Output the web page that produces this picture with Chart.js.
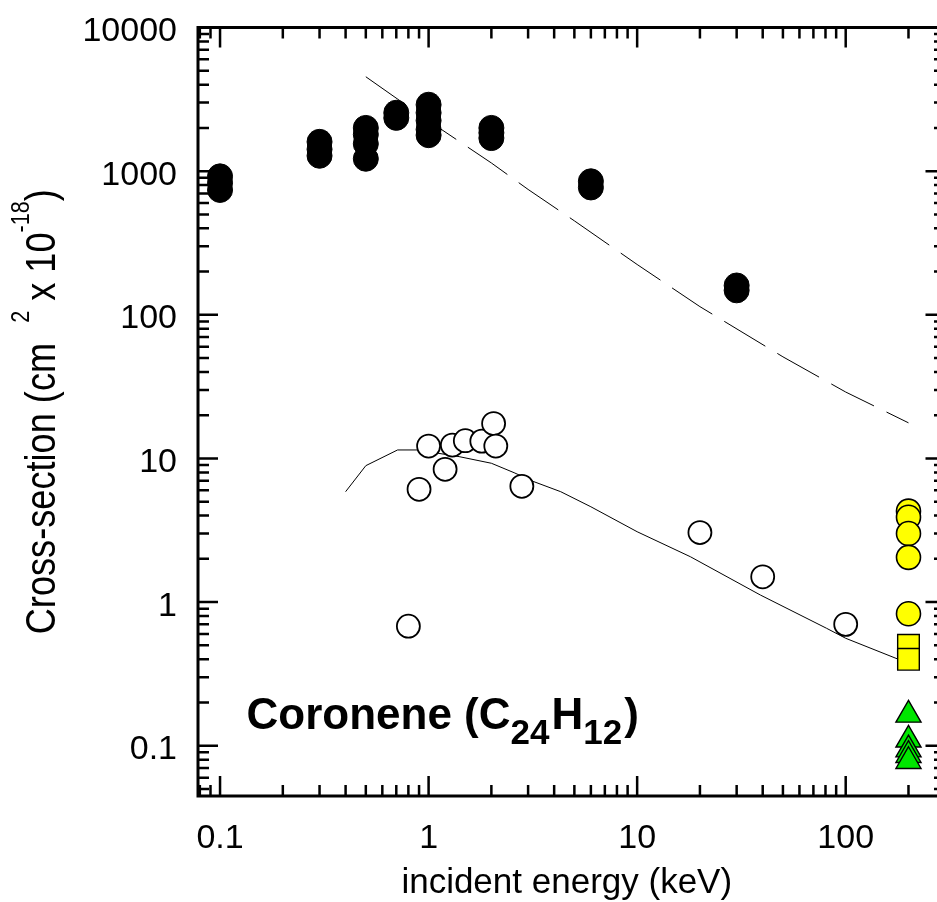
<!DOCTYPE html>
<html>
<head>
<meta charset="utf-8">
<script src="https://cdn.jsdelivr.net/npm/chart.js@4.4.1/dist/chart.umd.min.js"></script>
<style>
    html, body { margin: 0; padding: 0; background: #fff; }
    #chart { display: block; }
</style>
</head>
<body>
<canvas id="chart" width="937" height="902"></canvas>
<script>
// incident energy (keV) / cross-section (x 1e-18 cm^2)
var blackX = [0.1, 0.1, 0.1, 0.3, 0.3, 0.3, 0.5, 0.5, 0.5, 0.5, 0.7, 0.7, 1, 1, 1, 1, 1, 2, 2, 2, 6, 6, 30, 30];
var blackY = [920, 830, 740, 1600, 1420, 1280, 2000, 1800, 1550, 1220, 2550, 2350, 2900, 2550, 2250, 1950, 1780, 2000, 1850, 1700, 850, 770, 160, 148];

var openX = [0.8, 0.9, 1.0, 1.2, 1.3, 1.5, 1.8, 2.05, 2.1, 2.8, 20, 40, 100];
var openY = [0.68, 6.1, 12.2, 8.4, 12.4, 13.3, 13.2, 17.5, 12.2, 6.4, 3.05, 1.5, 0.70];

var yellowCircleX = [200, 200, 200, 200, 200];
var yellowCircleY = [4.3, 3.9, 3.0, 2.05, 0.83];
var yellowSquareX = [200, 200];
var yellowSquareY = [0.50, 0.40];
var greenX = [200, 200, 200, 200, 200];
var greenY = [0.164, 0.110, 0.094, 0.086, 0.078];

// theory curves
var dashX = [0.5, 1, 2, 3, 5, 10, 20, 50, 100, 200];
var dashY = [4540, 2240, 1140, 746, 451, 224, 114, 51, 29, 17.7];
var solidX = [0.4, 0.5, 0.71, 0.886, 1.4, 2, 2.57, 3.2, 4.3, 6, 10, 18, 39, 81, 100, 200];
var solidY = [5.87, 8.91, 11.46, 11.46, 10.3, 9.26, 7.96, 6.89, 5.87, 4.61, 3.09, 2.07, 1.12, 0.657, 0.56, 0.375];

var xTickValues = [0.1, 1, 10, 100];
var xTickLabels = ["0.1", "1", "10", "100"];
var yTickValues = [0.1, 1, 10, 100, 1000, 10000];
var yTickLabels = ["0.1", "1", "10", "100", "1000", "10000"];

function pts(xs, ys) {
    return xs.map(function (x, i) { return { x: x, y: ys[i] }; });
}

function minorTicks(min, max) {
    var out = [];
    for (var e = -3; e <= 5; e++) {
        for (var m = 2; m <= 9; m++) {
            var v = m * Math.pow(10, e);
            if (v > min && v < max) out.push(v);
        }
    }
    return out;
}

var frame = {
    id: "frame",
    afterDatasetsDraw: function (chart) {
        var ctx = chart.ctx;
        var a = chart.chartArea;
        var sx = chart.scales.x, sy = chart.scales.y;
        ctx.save();
        ctx.strokeStyle = "#000";
        ctx.lineCap = "butt";

        // inward ticks
        ctx.lineWidth = 2.5;
        ctx.beginPath();
        xTickValues.forEach(function (v) {
            var px = sx.getPixelForValue(v);
            ctx.moveTo(px, a.bottom); ctx.lineTo(px, a.bottom - 20);
            ctx.moveTo(px, a.top); ctx.lineTo(px, a.top + 20);
        });
        minorTicks(sx.min, sx.max).forEach(function (v) {
            var px = sx.getPixelForValue(v);
            ctx.moveTo(px, a.bottom); ctx.lineTo(px, a.bottom - 11);
            ctx.moveTo(px, a.top); ctx.lineTo(px, a.top + 11);
        });
        yTickValues.forEach(function (v) {
            var py = sy.getPixelForValue(v);
            ctx.moveTo(a.left, py); ctx.lineTo(a.left + 20, py);
            ctx.moveTo(a.right - 10, py); ctx.lineTo(a.right + 2, py);
        });
        minorTicks(sy.min, sy.max).forEach(function (v) {
            var py = sy.getPixelForValue(v);
            ctx.moveTo(a.left, py); ctx.lineTo(a.left + 11, py);
            ctx.moveTo(a.right - 1.5, py); ctx.lineTo(a.right + 2, py);
        });
        ctx.stroke();

        // frame
        ctx.lineWidth = 3;
        ctx.beginPath();
        ctx.moveTo(a.left, a.top); ctx.lineTo(chart.width, a.top);
        ctx.moveTo(a.left, a.top - 1.5); ctx.lineTo(a.left, a.bottom + 1.5);
        ctx.moveTo(a.left, a.bottom); ctx.lineTo(chart.width, a.bottom);
        ctx.stroke();

        // tick labels
        ctx.fillStyle = "#000";
        ctx.font = '34px "Liberation Sans", Arial, sans-serif';
        ctx.textAlign = "right";
        ctx.textBaseline = "alphabetic";
        yTickValues.forEach(function (v, i) {
            ctx.fillText(yTickLabels[i], 177, sy.getPixelForValue(v) + 13.5);
        });
        ctx.textAlign = "center";
        xTickValues.forEach(function (v, i) {
            ctx.fillText(xTickLabels[i], sx.getPixelForValue(v), 848);
        });

        // x title
        ctx.font = '35px "Liberation Sans", Arial, sans-serif';
        ctx.fillText("incident energy (keV)", (a.left + a.right) / 2, 893);

        // y title, condensed, with superscripts
        var big = '42px "Liberation Sans", Arial, sans-serif';
        var sup = '25px "Liberation Sans", Arial, sans-serif';
        var parts = [
            { t: "Cross-section (cm  ", f: big, r: 0 },
            { t: "2", f: sup, r: 26 },
            { t: " x 10", f: big, r: 0 },
            { t: "-18", f: sup, r: 26 },
            { t: ")", f: big, r: 0 }
        ];
        var total = 0;
        parts.forEach(function (p) { ctx.font = p.f; p.w = ctx.measureText(p.t).width; total += p.w; });
        var k = 445 / total;
        ctx.save();
        ctx.translate(55, (a.top + a.bottom) / 2);
        ctx.rotate(-Math.PI / 2);
        ctx.scale(k, 1);
        ctx.textAlign = "left";
        var cx = -total / 2;
        parts.forEach(function (p) {
            ctx.font = p.f;
            ctx.fillText(p.t, cx, -p.r);
            cx += p.w;
        });
        ctx.restore();

        // annotation
        var mainF = 'bold 44px "Liberation Sans", Arial, sans-serif';
        var subF = 'bold 35px "Liberation Sans", Arial, sans-serif';
        var segs = [
            { t: "Coronene (C", f: mainF, dy: 0 },
            { t: "24", f: subF, dy: 15 },
            { t: "H", f: mainF, dy: 0 },
            { t: "12", f: subF, dy: 15 },
            { t: ")", f: mainF, dy: 0 }
        ];
        ctx.textAlign = "left";
        var tx = 246.5;
        segs.forEach(function (s) {
            ctx.font = s.f;
            ctx.fillText(s.t, tx, 728.5 + s.dy);
            tx += ctx.measureText(s.t).width + (s.dy ? 2 : 0);
        });
        ctx.restore();
    }
};

var ctx = document.getElementById("chart");
var chart = new Chart(ctx, {
    type: "scatter",
    data: {
        datasets: [
            {
                label: "theory (dashed)",
                data: pts(dashX, dashY),
                showLine: true,
                borderColor: "#000",
                borderWidth: 1,
                borderDash: [48, 14],
                pointRadius: 0,
                order: 10
            },
            {
                label: "theory (solid)",
                data: pts(solidX, solidY),
                showLine: true,
                borderColor: "#000",
                borderWidth: 1,
                pointRadius: 0,
                order: 9
            },
            {
                label: "total",
                data: pts(blackX, blackY),
                pointRadius: 12.5,
                pointBackgroundColor: "#000",
                pointBorderColor: "#000",
                pointBorderWidth: 1,
                order: 5
            },
            {
                label: "open",
                data: pts(openX, openY),
                pointRadius: 11.5,
                pointBackgroundColor: "#fff",
                pointBorderColor: "#000",
                pointBorderWidth: 1.8,
                order: 4
            },
            {
                label: "yellow circles",
                data: pts(yellowCircleX, yellowCircleY),
                pointRadius: 12,
                pointBackgroundColor: "#ffff00",
                pointBorderColor: "#000",
                pointBorderWidth: 1.6,
                order: 3
            },
            {
                label: "yellow squares",
                data: pts(yellowSquareX, yellowSquareY),
                pointStyle: "rect",
                pointRadius: 15.3,
                pointBackgroundColor: "#ffff00",
                pointBorderColor: "#000",
                pointBorderWidth: 1.4,
                order: 2
            },
            {
                label: "green",
                data: pts(greenX, greenY),
                pointStyle: "triangle",
                pointRadius: 14.5,
                pointBackgroundColor: "#00e600",
                pointBorderColor: "#000",
                pointBorderWidth: 1.4,
                order: 1
            }
        ]
    },
    options: {
        responsive: false,
        animation: false,
        layout: { autoPadding: false, padding: { left: 198, top: 27.5, right: 1.5, bottom: 106 } },
        scales: {
            x: { type: "logarithmic", display: false, min: 0.0784, max: 269.5 },
            y: { type: "logarithmic", display: false, min: 0.0447, max: 10000 }
        },
        plugins: {
            legend: { display: false },
            tooltip: { enabled: false }
        }
    },
    plugins: [frame]
});
</script>
</body>
</html>
